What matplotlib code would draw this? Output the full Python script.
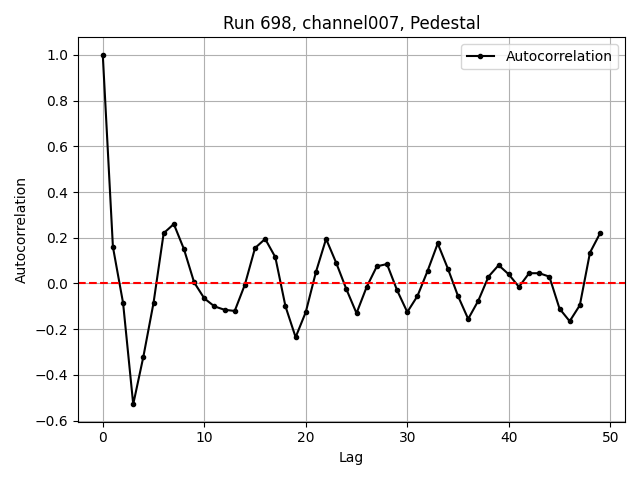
import matplotlib
matplotlib.use("Agg")
import matplotlib.pyplot as plt

lags = list(range(50))
acf = [1.0, 0.16, -0.085, -0.528, -0.32, -0.085, 0.22, 0.26, 0.15, 0.005,
       -0.065, -0.10, -0.115, -0.12, -0.005, 0.155, 0.195, 0.115, -0.10, -0.235,
       -0.125, 0.05, 0.195, 0.09, -0.025, -0.13, -0.015, 0.075, 0.085, -0.03,
       -0.125, -0.055, 0.055, 0.175, 0.065, -0.055, -0.155, -0.075, 0.03, 0.08,
       0.04, -0.015, 0.045, 0.045, 0.03, -0.11, -0.165, -0.095, 0.135, 0.22]

plt.figure(figsize=(6.4, 4.8), dpi=100)
plt.plot(lags, acf, "k.-", label="Autocorrelation")
plt.axhline(0, color="r", linestyle="--")
plt.title("Run 698, channel007, Pedestal")
plt.xlabel("Lag")
plt.ylabel("Autocorrelation")
plt.grid(True)
plt.legend()
plt.tight_layout()
plt.savefig("out.png")
